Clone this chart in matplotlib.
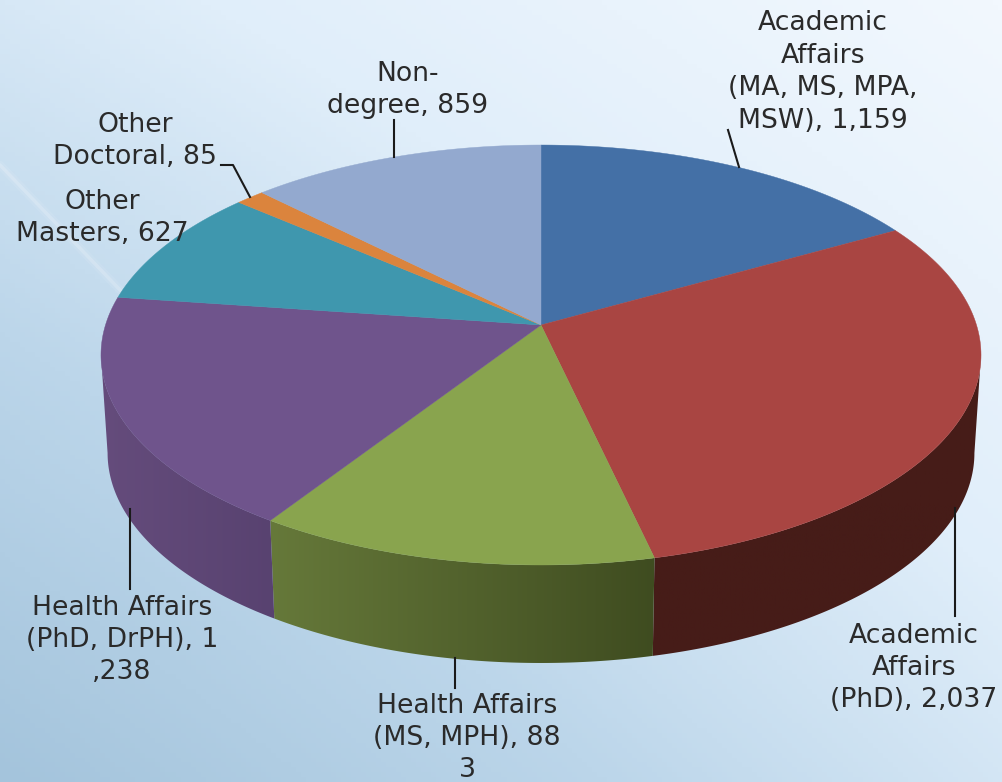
import numpy as np
import matplotlib
matplotlib.use('Agg')
import matplotlib.pyplot as plt
from matplotlib.colors import LinearSegmentedColormap
from matplotlib.patches import Polygon

values = [1159, 2037, 883, 1238, 627, 85, 859]
top_colors = ['#4470a6', '#a94542', '#89a44e', '#6f548c', '#3f97ae', '#db843d', '#93a9cf']
# wall colours, left end and right end of each slice
wall_left = ['#2f4f75', '#461c18', '#66793a', '#654c7c', '#2c6a7a', '#99602b', '#67768f']
wall_right = ['#2f4f75', '#461c18', '#3f4c20', '#584270', '#2c6a7a', '#99602b', '#67768f']
labels = ['Academic\nAffairs\n(MA, MS, MPA,\nMSW), 1,159',
          'Academic\nAffairs\n(PhD), 2,037',
          'Health Affairs\n(MS, MPH), 88\n3',
          'Health Affairs\n(PhD, DrPH), 1\n,238',
          'Other\nMasters, 627',
          'Other\nDoctoral, 85',
          'Non-\ndegree, 859']
label_x = [823, 914, 467, 122, 102, 135, 408]
label_y = [72, 668, 738, 640, 218, 141, 90]
leaders = [([728, 739], [130, 167]), ([955, 955], [508, 616]), ([455, 455], [658, 688]),
           ([130, 130], [509, 589]), ([221, 233, 250], [165, 165, 197]), ([394, 394], [120, 157])]

# perspective circle: apex of the pie and projection constants
cx, cy = 541, 325
A, B, k = 435.5, 205.7, 1 / 7
depth = 98
inset = 0.985

fig = plt.figure(figsize=(10.03, 7.82), dpi=100)
ax = fig.add_axes([0, 0, 1, 1])
ax.axis('off')

# background
bg = LinearSegmentedColormap.from_list('bg', ['#f2f8fe', '#e0eefa', '#bcd6ea', '#a4c4dc'])
xx, yy = np.meshgrid(np.linspace(0, 1, 200), np.linspace(0, 1, 160))
shade = 0.42 * (1 - xx) + 0.45 * yy + 0.13 * (1 - xx) * yy
ax.imshow(shade, cmap=bg, extent=(0, 1003, 782, 0), aspect='auto', vmin=0, vmax=1, zorder=0)
for w, a in [(6, 0.08), (2.5, 0.18)]:
    ax.plot([0, 122], [165, 292], color='white', lw=w, alpha=a, zorder=1, solid_capstyle='round')


def edge(theta):
    w = 1 + k * np.cos(theta)
    return cx + A * np.sin(theta) / w, cy - B * np.cos(theta) / w


bounds = 2 * np.pi * np.concatenate([[0], np.cumsum(values)]) / sum(values)
wall_start = np.arccos(-k)
wall_end = 2 * np.pi - wall_start

# side walls, only the front part shows
for i in range(len(values)):
    a0, a1 = max(bounds[i], wall_start), min(bounds[i + 1], wall_end)
    if a1 <= a0:
        continue
    t = np.linspace(a0, a1, 150)
    x, y = edge(t)
    xb = cx + (x - cx) * inset
    poly_x = np.r_[x, xb[::-1]]
    poly_y = np.r_[y, (y + depth)[::-1]]
    clip = Polygon(np.c_[poly_x, poly_y], closed=True, transform=ax.transData, fc='none', ec='none')
    ax.add_patch(clip)
    cmap = LinearSegmentedColormap.from_list('wall', [wall_left[i], wall_right[i]])
    im = ax.imshow(np.linspace(0, 1, 256)[None, :], cmap=cmap, aspect='auto', zorder=2,
                   extent=(poly_x.min() - 1, poly_x.max() + 1, poly_y.max() + 1, poly_y.min() - 1))
    im.set_clip_path(clip)

# top
for i in range(len(values)):
    t = np.linspace(bounds[i], bounds[i + 1], 120)
    x, y = edge(t)
    ax.fill(np.r_[cx, x], np.r_[cy, y], color=top_colors[i], lw=0.3, zorder=3)

for lx, ly in leaders:
    ax.plot(lx, ly, color='#1a1a1a', lw=1.5, zorder=4)
for px, py, c in zip(label_x, label_y, labels):
    ax.text(px, py, c, ha='center', va='center', fontsize=19.2, color='#2a2a2a', linespacing=1.32, zorder=5, family='DejaVu Sans')

ax.set_xlim(0, 1003)
ax.set_ylim(782, 0)
fig.savefig('out.png', dpi=100)
